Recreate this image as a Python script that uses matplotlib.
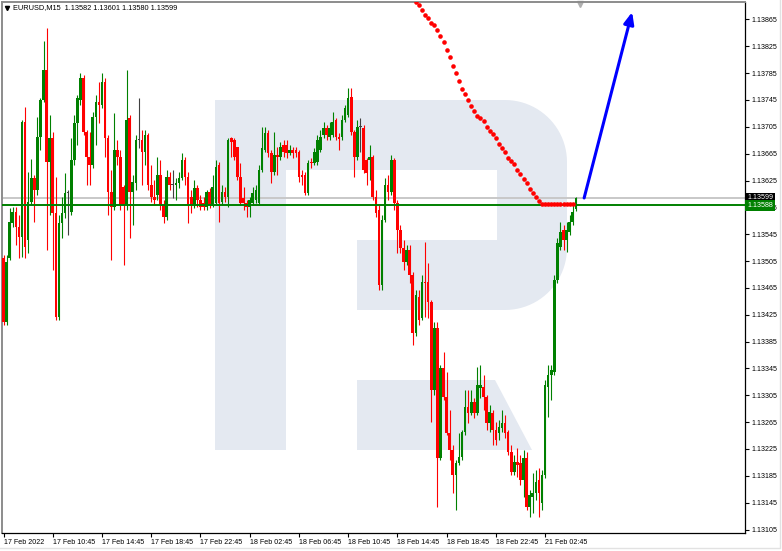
import numpy as np
import matplotlib
matplotlib.use("Agg")
import matplotlib.pyplot as plt
from matplotlib.patches import Polygon
from matplotlib.transforms import blended_transform_factory

plt.rcParams['font.family'] = ['Liberation Sans', 'DejaVu Sans']

# EURUSD M15, 17 Feb 06:45 -> 21 Feb 05:30 (one value per bar)
opens = [1.13510, 1.13414, 1.13510, 1.13562, 1.13578, 1.13556, 1.13541, 1.13712, 1.13536, 1.13593,
         1.13629, 1.13611, 1.13690, 1.13745, 1.13790, 1.13653, 1.13688, 1.13577, 1.13422, 1.13562,
         1.13577, 1.13606, 1.13578, 1.13656, 1.13711, 1.13745, 1.13778, 1.13697, 1.13660, 1.13648,
         1.13720, 1.13742, 1.13737, 1.13772, 1.13688, 1.13608, 1.13586, 1.13670, 1.13660, 1.13615,
         1.13588, 1.13718, 1.13608, 1.13621, 1.13685, 1.13685, 1.13667, 1.13693, 1.13618, 1.13600,
         1.13603, 1.13633, 1.13588, 1.13571, 1.13630, 1.13618, 1.13618, 1.13621, 1.13629, 1.13656,
         1.13630, 1.13600, 1.13588, 1.13614, 1.13596, 1.13591, 1.13586, 1.13608, 1.13588, 1.13591,
         1.13648, 1.13593, 1.13608, 1.13600, 1.13688, 1.13685, 1.13675, 1.13630, 1.13599, 1.13591,
         1.13586, 1.13591, 1.13596, 1.13591, 1.13641, 1.13670, 1.13696, 1.13666, 1.13638, 1.13663,
         1.13660, 1.13678, 1.13678, 1.13666, 1.13670, 1.13670, 1.13667, 1.13633, 1.13633, 1.13606,
         1.13653, 1.13651, 1.13653, 1.13670, 1.13693, 1.13703, 1.13690, 1.13693, 1.13715, 1.13690,
         1.13690, 1.13715, 1.13723, 1.13749, 1.13697, 1.13660, 1.13705, 1.13703, 1.13656, 1.13656,
         1.13660, 1.13600, 1.13581, 1.13469, 1.13566, 1.13618, 1.13608, 1.13656, 1.13591, 1.13551,
         1.13524, 1.13504, 1.13521, 1.13484, 1.13398, 1.13451, 1.13420, 1.13474, 1.13474, 1.13444,
         1.13313, 1.13405, 1.13212, 1.13346, 1.13302, 1.13249, 1.13224, 1.13186, 1.13204, 1.13213,
         1.13250, 1.13288, 1.13279, 1.13295, 1.13279, 1.13316, 1.13317, 1.13302, 1.13264, 1.13279,
         1.13253, 1.13249, 1.13256, 1.13264, 1.13250, 1.13221, 1.13191, 1.13206, 1.13204, 1.13179,
         1.13212, 1.13139, 1.13153, 1.13159, 1.13179, 1.13144, 1.13186, 1.13317, 1.13335, 1.13340,
         1.13477, 1.13526, 1.13551, 1.13536, 1.13548, 1.13563, 1.13582]
highs = [1.13514, 1.13514, 1.13584, 1.13586, 1.13586, 1.13574, 1.13715, 1.13735, 1.13638, 1.13657,
         1.13633, 1.13720, 1.13748, 1.13833, 1.13852, 1.13723, 1.13697, 1.13630, 1.13574, 1.13600,
         1.13636, 1.13611, 1.13688, 1.13723, 1.13752, 1.13785, 1.13782, 1.13700, 1.13697, 1.13727,
         1.13752, 1.13772, 1.13785, 1.13778, 1.13693, 1.13641, 1.13726, 1.13685, 1.13670, 1.13618,
         1.13790, 1.13723, 1.13633, 1.13693, 1.13748, 1.13700, 1.13700, 1.13696, 1.13648, 1.13626,
         1.13660, 1.13656, 1.13596, 1.13641, 1.13638, 1.13641, 1.13629, 1.13638, 1.13666, 1.13660,
         1.13638, 1.13611, 1.13626, 1.13618, 1.13603, 1.13600, 1.13611, 1.13614, 1.13633, 1.13656,
         1.13653, 1.13618, 1.13615, 1.13688, 1.13690, 1.13688, 1.13675, 1.13651, 1.13615, 1.13596,
         1.13600, 1.13615, 1.13618, 1.13648, 1.13705, 1.13705, 1.13700, 1.13670, 1.13697, 1.13675,
         1.13682, 1.13685, 1.13685, 1.13678, 1.13675, 1.13675, 1.13670, 1.13641, 1.13638, 1.13656,
         1.13659, 1.13673, 1.13693, 1.13700, 1.13712, 1.13708, 1.13712, 1.13727, 1.13718, 1.13696,
         1.13723, 1.13737, 1.13763, 1.13763, 1.13700, 1.13715, 1.13718, 1.13708, 1.13659, 1.13678,
         1.13663, 1.13611, 1.13588, 1.13574, 1.13629, 1.13633, 1.13663, 1.13659, 1.13596, 1.13559,
         1.13536, 1.13529, 1.13529, 1.13489, 1.13462, 1.13462, 1.13484, 1.13533, 1.13502, 1.13447,
         1.13414, 1.13414, 1.13350, 1.13369, 1.13340, 1.13283, 1.13231, 1.13209, 1.13249, 1.13253,
         1.13313, 1.13313, 1.13313, 1.13301, 1.13347, 1.13350, 1.13335, 1.13305, 1.13291, 1.13283,
         1.13265, 1.13268, 1.13283, 1.13276, 1.13253, 1.13231, 1.13216, 1.13226, 1.13216, 1.13224,
         1.13221, 1.13164, 1.13189, 1.13194, 1.13197, 1.13194, 1.13328, 1.13350, 1.13350, 1.13484,
         1.13539, 1.13563, 1.13559, 1.13563, 1.13574, 1.13588, 1.13601]
lows = [1.13410, 1.13410, 1.13507, 1.13556, 1.13529, 1.13510, 1.13511, 1.13510, 1.13517, 1.13588,
        1.13563, 1.13603, 1.13670, 1.13742, 1.13521, 1.13574, 1.13492, 1.13417, 1.13417, 1.13539,
        1.13569, 1.13544, 1.13574, 1.13648, 1.13678, 1.13737, 1.13693, 1.13618, 1.13618, 1.13644,
        1.13678, 1.13711, 1.13733, 1.13660, 1.13574, 1.13507, 1.13581, 1.13648, 1.13581, 1.13499,
        1.13581, 1.13539, 1.13559, 1.13611, 1.13673, 1.13618, 1.13648, 1.13611, 1.13593, 1.13588,
        1.13596, 1.13581, 1.13562, 1.13566, 1.13611, 1.13599, 1.13596, 1.13614, 1.13626, 1.13618,
        1.13562, 1.13577, 1.13584, 1.13586, 1.13581, 1.13581, 1.13581, 1.13584, 1.13586, 1.13588,
        1.13563, 1.13588, 1.13593, 1.13586, 1.13660, 1.13656, 1.13626, 1.13588, 1.13581, 1.13571,
        1.13571, 1.13588, 1.13591, 1.13588, 1.13638, 1.13667, 1.13660, 1.13621, 1.13633, 1.13633,
        1.13656, 1.13660, 1.13659, 1.13663, 1.13659, 1.13660, 1.13623, 1.13618, 1.13603, 1.13603,
        1.13644, 1.13648, 1.13648, 1.13667, 1.13688, 1.13685, 1.13685, 1.13690, 1.13685, 1.13670,
        1.13685, 1.13712, 1.13720, 1.13693, 1.13630, 1.13656, 1.13667, 1.13636, 1.13618, 1.13626,
        1.13596, 1.13571, 1.13462, 1.13462, 1.13563, 1.13596, 1.13603, 1.13581, 1.13517, 1.13517,
        1.13492, 1.13499, 1.13472, 1.13380, 1.13393, 1.13410, 1.13417, 1.13422, 1.13420, 1.13265,
        1.13305, 1.13139, 1.13209, 1.13298, 1.13246, 1.13209, 1.13159, 1.13134, 1.13201, 1.13209,
        1.13246, 1.13264, 1.13276, 1.13271, 1.13276, 1.13301, 1.13283, 1.13253, 1.13250, 1.13231,
        1.13231, 1.13238, 1.13250, 1.13241, 1.13216, 1.13186, 1.13186, 1.13183, 1.13171, 1.13153,
        1.13134, 1.13124, 1.13130, 1.13149, 1.13124, 1.13134, 1.13182, 1.13273, 1.13298, 1.13335,
        1.13472, 1.13521, 1.13521, 1.13518, 1.13544, 1.13559, 1.13580]
closes = [1.13414, 1.13504, 1.13563, 1.13578, 1.13556, 1.13541, 1.13712, 1.13526, 1.13593, 1.13629,
          1.13611, 1.13690, 1.13745, 1.13790, 1.13653, 1.13688, 1.13577, 1.13422, 1.13562, 1.13577,
          1.13606, 1.13606, 1.13656, 1.13711, 1.13748, 1.13778, 1.13697, 1.13660, 1.13648, 1.13720,
          1.13742, 1.13737, 1.13772, 1.13688, 1.13608, 1.13586, 1.13670, 1.13660, 1.13588, 1.13588,
          1.13715, 1.13608, 1.13623, 1.13685, 1.13685, 1.13667, 1.13693, 1.13618, 1.13600, 1.13596,
          1.13633, 1.13588, 1.13571, 1.13630, 1.13618, 1.13618, 1.13621, 1.13629, 1.13656, 1.13630,
          1.13588, 1.13588, 1.13614, 1.13596, 1.13586, 1.13586, 1.13608, 1.13588, 1.13615, 1.13645,
          1.13591, 1.13608, 1.13600, 1.13685, 1.13682, 1.13660, 1.13630, 1.13591, 1.13591, 1.13586,
          1.13596, 1.13606, 1.13611, 1.13641, 1.13673, 1.13696, 1.13666, 1.13638, 1.13663, 1.13660,
          1.13675, 1.13667, 1.13666, 1.13670, 1.13666, 1.13666, 1.13630, 1.13630, 1.13606, 1.13651,
          1.13651, 1.13667, 1.13685, 1.13690, 1.13703, 1.13693, 1.13703, 1.13712, 1.13690, 1.13687,
          1.13715, 1.13733, 1.13748, 1.13697, 1.13660, 1.13705, 1.13705, 1.13641, 1.13636, 1.13660,
          1.13600, 1.13577, 1.13469, 1.13566, 1.13618, 1.13608, 1.13656, 1.13591, 1.13551, 1.13524,
          1.13504, 1.13521, 1.13484, 1.13398, 1.13454, 1.13417, 1.13474, 1.13472, 1.13444, 1.13313,
          1.13405, 1.13212, 1.13346, 1.13302, 1.13249, 1.13224, 1.13186, 1.13204, 1.13213, 1.13250,
          1.13288, 1.13279, 1.13295, 1.13279, 1.13320, 1.13320, 1.13302, 1.13264, 1.13280, 1.13253,
          1.13238, 1.13258, 1.13264, 1.13249, 1.13221, 1.13191, 1.13206, 1.13201, 1.13179, 1.13212,
          1.13139, 1.13156, 1.13159, 1.13176, 1.13159, 1.13186, 1.13320, 1.13335, 1.13343, 1.13477,
          1.13532, 1.13548, 1.13536, 1.13551, 1.13563, 1.13578, 1.13599]

# red dotted indicator, one dot per bar from bar 134
dots_start = 134
dots = [1.13891, 1.13887, 1.13879, 1.13872, 1.13867, 1.13859, 1.13856, 1.13850, 1.13841, 1.13832,
        1.13819, 1.13809, 1.13796, 1.13785, 1.13773, 1.13762, 1.13754, 1.13745, 1.13736, 1.13729,
        1.13721, 1.13718, 1.13713, 1.13705, 1.13699, 1.13694, 1.13689, 1.13680, 1.13674, 1.13668,
        1.13659, 1.13654, 1.13649, 1.13641, 1.13634, 1.13627, 1.13621, 1.13613, 1.13607, 1.13600,
        1.13594, 1.13590, 1.13590, 1.13590, 1.13590, 1.13590, 1.13590, 1.13590, 1.13590, 1.13590,
        1.13590, 1.13590]

x_labels = ['17 Feb 2022', '17 Feb 10:45', '17 Feb 14:45', '17 Feb 18:45', '17 Feb 22:45',
            '18 Feb 02:45', '18 Feb 06:45', '18 Feb 10:45', '18 Feb 14:45', '18 Feb 18:45',
            '18 Feb 22:45', '21 Feb 02:45']
bars_per_label = 16
y_ticks = [1.13105, 1.13145, 1.13185, 1.13225, 1.13265, 1.13305, 1.13345, 1.13385, 1.13425,
           1.13465, 1.13505, 1.13545, 1.13585, 1.13625, 1.13665, 1.13705, 1.13745, 1.13785,
           1.13825, 1.13865]

bid_price = 1.13599
level_price = 1.13588
arrow_from = (188.7, 1.13599)
arrow_to = (204.3, 1.13876)
title = 'EURUSD,M15  1.13582 1.13601 1.13580 1.13599'

W, H = 782, 551
fig = plt.figure(figsize=(W / 100, H / 100), dpi=100)

# background layer in pixel coords (watermark, header, frame)
bg = fig.add_axes([0, 0, 1, 1], zorder=0)
bg.set_xlim(0, W)
bg.set_ylim(H, 0)
bg.axis('off')

def arc(cx, cy, r, a0, a1, n=24):
    t = np.radians(np.linspace(a0, a1, n))
    return list(zip(cx + r * np.cos(t), cy + r * np.sin(t)))

wm = '#e4e9f1'
r_shape = [(215, 100)] + arc(505, 162, 62, -90, 0) + arc(505, 248, 62, 0, 90) + \
          [(357, 310), (357, 240), (497, 240), (497, 170), (286, 170), (286, 450), (215, 450)]
bg.add_patch(Polygon(r_shape, closed=True, fc=wm, ec='none'))
bg.add_patch(Polygon([(357, 380), (495, 380), (532, 450), (357, 450)], closed=True, fc=wm, ec='none'))

bg.text(13, 7.5, title, fontsize=5.3, va='center', ha='left')
bg.plot([7], [7.5], marker='v', ms=3, color='black')
bg.plot([580], [3.5], marker='v', ms=4.5, color='#b0b0b0')
bg.plot([0, 780, 780], [548, 548, 0], color='#e2e2e2', lw=1)

# main chart
ax = fig.add_axes([2 / W, 18 / H, 743 / W, 531 / H], zorder=1)
ax.set_facecolor('none')

o = np.array(opens)
c = np.array(closes)
hi = np.array(highs)
lo = np.array(lows)
idx = np.arange(len(o))
colors = np.where(c > o + 1e-7, '#008000', np.where(c < o - 1e-7, '#ff0000', '#404040'))

ax.vlines(idx, lo, hi, colors=colors, lw=0.8, zorder=3)
body_low = np.minimum(o, c)
body_h = np.maximum(np.abs(c - o), 0.000012)
ax.bar(idx, body_h, bottom=body_low, width=0.85, color=colors, lw=0, zorder=3)

ax.axhline(bid_price, color='#c8c8c8', lw=1.4, zorder=2)
ax.axhline(level_price, color='#008000', lw=1.4, zorder=4)

dot_x = np.arange(dots_start, dots_start + len(dots))
ax.plot(dot_x, dots, ls='none', marker='o', ms=3.3, color='#ff0000', mec='none', zorder=5)

ax.annotate('', xy=arrow_to, xytext=arrow_from,
            arrowprops=dict(arrowstyle='-|>,head_length=0.7,head_width=0.3', color='#0000ff', lw=2.2,
                            shrinkA=0, shrinkB=0), zorder=6, annotation_clip=False)

ax.set_xlim(-0.49, 240.98)
ax.set_ylim(1.130998, 1.13891)

ax.set_xticks(np.arange(len(x_labels)) * bars_per_label)
ax.set_xticklabels(x_labels)
for lab in ax.get_xticklabels():
    lab.set_horizontalalignment('left')
ax.tick_params(axis='x', length=3, width=0.8, pad=1.5, labelsize=5.1, direction='out')

ax.yaxis.tick_right()
ax.set_yticks(y_ticks)
ax.set_yticklabels([f'{v:.5f}' for v in y_ticks])
ax.tick_params(axis='y', length=3, width=0.8, pad=2, labelsize=5.1, direction='out')

for side in ['left', 'top']:
    ax.spines[side].set_color('#8c8c8c')
    ax.spines[side].set_linewidth(1.4)
for side in ['right', 'bottom']:
    ax.spines[side].set_color('black')
    ax.spines[side].set_linewidth(0.9)

tr = blended_transform_factory(ax.transAxes, ax.transData)
ax.text(1.003, bid_price, f'{bid_price:.5f}', transform=tr, fontsize=5.1, color='white',
        va='center', ha='left', zorder=7, clip_on=False,
        bbox=dict(boxstyle='square,pad=0.25', fc='black', ec='none'))
ax.text(1.003, level_price, f'{level_price:.5f}', transform=tr, fontsize=5.1, color='white',
        va='center', ha='left', zorder=8, clip_on=False,
        bbox=dict(boxstyle='square,pad=0.25', fc='#008000', ec='none'))

fig.savefig('out.png', dpi=100)
